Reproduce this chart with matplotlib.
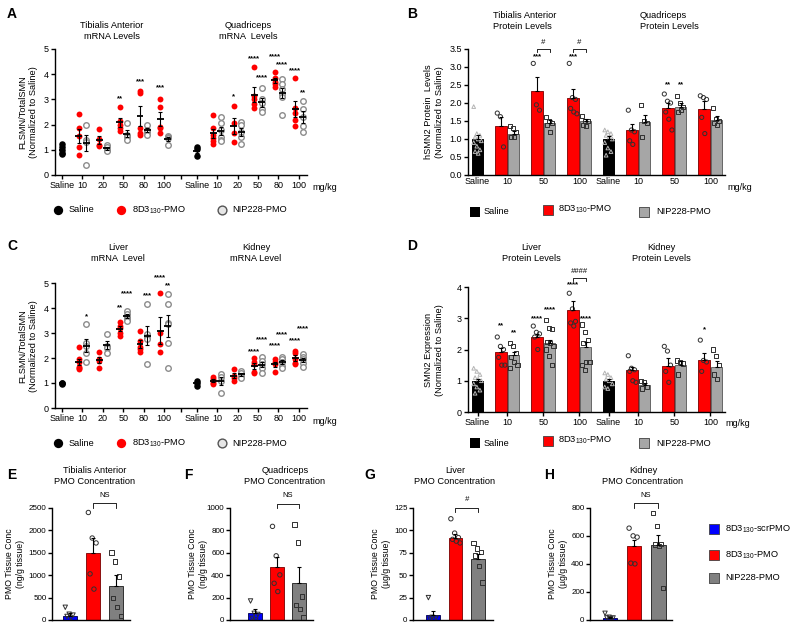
import matplotlib.pyplot as plt
import numpy as np

plt.rcParams["font.family"] = ["Liberation Sans", "DejaVu Sans"]
plt.rcParams["mathtext.fontset"] = "custom"
plt.rcParams["mathtext.rm"] = "Liberation Sans"
plt.rcParams["mathtext.it"] = "Liberation Sans"
plt.rcParams["font.size"] = 6.5
plt.rcParams["axes.linewidth"] = 1.0
plt.rcParams["axes.spines.top"] = False
plt.rcParams["axes.spines.right"] = False

W, H = 800, 630
RED = "#ff0000"
DOT_GREY = "#8c8c8c"
BAR_GREY = "#a6a6a6"
DARK_GREY = "#808080"
BLUE = "#0000ff"
PMO = "8D3$_{130}$-PMO"
STAR_FS = 5.6

#%% A: mRNA, tibialis anterior / quadriceps (FLSMN/TotalSMN)
mrna_doses = ["10", "20", "50", "80", "100"]
ta_mrna_saline = [1.22, 1.12, 1.0, 0.88, 0.82]
ta_mrna_8d3 = [[2.43, 1.88, 1.55, 1.1, 0.8], [1.82, 1.42, 1.2, 1.15],
               [2.7, 2.15, 2.0, 1.85, 1.75], [3.35, 3.25, 1.85, 1.65, 1.6],
               [3.0, 2.7, 1.9, 1.85, 1.65]]
ta_mrna_nip = [[2.0, 1.4, 1.3, 0.38], [1.2, 1.1, 1.0, 0.95],
               [2.05, 1.6, 1.5, 1.4], [2.0, 1.8, 1.7, 1.6],
               [1.55, 1.5, 1.45, 1.2]]
q_mrna_saline = [1.1, 1.05, 0.75]
q_mrna_8d3 = [[2.4, 1.85, 1.6, 1.45, 1.35, 1.25], [2.75, 2.05, 1.65, 1.3],
              [4.3, 3.15, 3.0, 2.8, 2.65], [4.1, 3.85, 3.7, 3.6, 3.5],
              [3.85, 2.65, 2.45, 2.2, 1.95]]
q_mrna_nip = [[2.3, 2.05, 1.8, 1.5, 1.4, 1.35], [2.1, 2.0, 1.7, 1.5, 1.25],
              [3.45, 3.0, 2.85, 2.6, 2.5], [3.8, 3.6, 3.4, 3.2, 3.1, 2.4],
              [2.95, 2.6, 2.3, 1.95, 1.7]]
# (tissue, dose index, group, label, height)
a_stars = [(0, 2, "r", "**", 3.04), (0, 3, "r", "***", 3.7), (0, 4, "r", "***", 3.48),
           (1, 1, "r", "*", 3.1), (1, 2, "r", "****", 4.6), (1, 2, "g", "****", 3.84),
           (1, 3, "r", "****", 4.68), (1, 3, "g", "****", 4.36),
           (1, 4, "r", "****", 4.14), (1, 4, "g", "**", 3.27)]

#%% C: mRNA, liver / kidney
li_mrna_saline = [1.02, 1.0, 0.95]
li_mrna_8d3 = [[2.45, 1.95, 1.85, 1.65, 1.6, 1.55], [2.25, 1.95, 1.9, 1.6],
               [3.45, 3.3, 3.2, 3.0, 2.9], [3.1, 2.7, 2.45, 2.35, 2.25],
               [4.6, 3.0, 2.55, 2.25]]
li_mrna_nip = [[3.35, 2.6, 2.5, 2.2, 1.85], [2.95, 2.5, 2.4, 2.2],
               [3.9, 3.75, 3.65, 3.55, 3.5], [4.15, 2.95, 2.85, 2.75, 1.75],
               [4.55, 4.15, 3.4, 3.35, 2.6, 1.6]]
ki_mrna_saline = [1.1, 1.0, 0.9]
ki_mrna_8d3 = [[1.25, 1.15, 1.1, 1.0, 0.95], [1.55, 1.3, 1.2, 1.1],
               [2.0, 1.85, 1.75, 1.45, 1.4], [1.95, 1.85, 1.75, 1.45],
               [2.3, 2.2, 1.95, 1.8, 1.75]]
ki_mrna_nip = [[1.35, 1.25, 1.1, 0.6], [1.5, 1.4, 1.3, 1.2],
               [2.05, 1.9, 1.75, 1.6, 1.4], [2.05, 1.95, 1.85, 1.7, 1.6],
               [2.15, 2.05, 1.95, 1.8, 1.65]]
c_stars = [(0, 0, "g", "*", 3.67), (0, 2, "r", "**", 4.0), (0, 2, "g", "****", 4.57),
           (0, 3, "g", "***", 4.5), (0, 4, "r", "****", 5.2), (0, 4, "g", "**", 4.9),
           (1, 2, "r", "****", 2.25), (1, 2, "g", "****", 2.75),
           (1, 3, "r", "****", 2.5), (1, 3, "g", "****", 2.92),
           (1, 4, "r", "****", 2.7), (1, 4, "g", "****", 3.16)]

#%% B: protein, tibialis anterior / quadriceps (bar = mean, err = SEM)
prot_doses = ["10", "50", "100"]
b_saline_mean = [1.0, 1.0]
b_saline_sem = [0.12, 0.07]
b_saline_pts = [[1.9, 1.15, 1.1, 1.05, 1.0, 0.95, 0.9, 0.8, 0.7, 0.65, 0.6],
                [1.25, 1.2, 1.15, 1.1, 1.05, 1.0, 0.9, 0.75, 0.65, 0.55]]
b_8d3_mean = [[1.37, 2.32, 2.13], [1.26, 1.87, 1.83]]
b_8d3_sem = [[0.25, 0.4, 0.27], [0.17, 0.13, 0.22]]
b_8d3_pts = [[[1.72, 1.62, 0.78], [3.1, 1.95, 1.8], [3.1, 2.15, 2.1, 1.85, 1.75, 1.7]],
             [[1.8, 1.25, 1.2, 0.95, 0.85], [2.25, 2.05, 2.0, 1.75, 1.55, 1.25],
              [2.2, 2.15, 2.1, 1.6, 1.15]]]
b_nip_mean = [[1.15, 1.45, 1.5], [1.48, 1.9, 1.53]]
b_nip_sem = [[0.07, 0.07, 0.06], [0.18, 0.1, 0.1]]
b_nip_pts = [[[1.35, 1.3, 1.2, 1.05, 1.05], [1.6, 1.5, 1.45, 1.4, 1.2],
              [1.65, 1.5, 1.5, 1.4, 1.35]],
             [[1.95, 1.5, 1.45, 1.05], [2.2, 2.0, 1.9, 1.75, 1.8],
              [1.85, 1.55, 1.5, 1.45, 1.4]]]
b_stars = [(0, 1, "r", "***", 3.29), (0, 2, "r", "***", 3.29),
           (1, 1, "r", "**", 2.5), (1, 1, "g", "**", 2.5)]
b_brackets = [(0, 1, "#", 3.49), (0, 2, "#", 3.49)]

#%% D: protein, liver / kidney
d_saline_mean = [1.0, 1.0]
d_saline_sem = [0.07, 0.06]
d_saline_pts = [[1.4, 1.3, 1.2, 1.1, 1.05, 1.0, 0.9, 0.8, 0.7, 0.6],
                [1.25, 1.2, 1.1, 1.05, 1.0, 0.9, 0.8, 0.75]]
d_8d3_mean = [[1.93, 2.4, 3.26], [1.33, 1.48, 1.65]]
d_8d3_sem = [[0.12, 0.1, 0.3], [0.1, 0.24, 0.23]]
d_8d3_pts = [[[2.4, 2.1, 2.0, 1.75, 1.5, 1.5], [2.75, 2.55, 2.5, 2.4, 2.0],
              [3.8, 3.3, 2.9, 2.85, 2.75]],
             [[1.8, 1.4, 1.35, 1.3, 1.0, 0.95], [2.1, 1.95, 1.5, 1.3, 0.95],
              [2.3, 1.65, 1.6, 1.3]]]
d_nip_mean = [[1.83, 2.2, 2.08], [0.88, 1.52, 1.45]]
d_nip_sem = [[0.1, 0.12, 0.16], [0.06, 0.1, 0.18]]
d_nip_pts = [[[2.2, 2.1, 1.9, 1.75, 1.6, 1.5, 1.4],
              [2.95, 2.7, 2.65, 2.25, 2.2, 2.1, 2.0, 1.8, 1.5],
              [2.8, 2.55, 2.3, 2.2, 1.6, 1.6, 1.5, 1.35]],
             [[1.0, 0.95, 0.8, 0.75], [1.65, 1.6, 1.55, 1.2],
              [2.0, 1.8, 1.5, 1.2, 1.05]]]
d_stars = [(0, 0, "r", "**", 2.76), (0, 0, "g", "**", 2.53),
           (0, 1, "r", "****", 3.0), (0, 1, "g", "****", 3.27),
           (0, 2, "r", "****", 4.07), (0, 2, "g", "****", 3.0),
           (1, 2, "r", "*", 2.63)]
d_brackets = [(0, 2, "####", 4.28)]

#%% E-H: PMO tissue concentration (scrPMO, 8D3-PMO, NIP228-PMO)
e_mean, e_sem = [100, 1500, 760], [50, 320, 240]
e_pts = [[284, 130, 110, 80, 40], [2400, 1830, 1720, 1030, 690],
         [1507, 1306, 970, 485, 284, 90]]
f_mean, f_sem = [65, 470, 330], [35, 90, 145]
f_pts = [[170, 60, 50, 15, 0], [836, 573, 403, 328, 254],
         [851, 692, 209, 134, 98, 21]]
g_mean, g_sem = [5.5, 92, 68.5], [4.5, 4, 5.5]
g_pts = [[25, 3, 2, 1], [113, 97, 92, 90, 88, 86], [86, 80, 76, 72, 60, 42]]
h_mean, h_sem = [15, 532, 535], [7, 43, 75]
h_pts = [[48, 20, 15, 15, 10], [656, 601, 592, 406, 401],
         [764, 673, 545, 540, 530, 230]]

fig = plt.figure(figsize=(W / 100, H / 100), dpi=100)


def px_axes(left, top, right, bottom):
    return fig.add_axes([left / W, 1 - bottom / H, (right - left) / W, (bottom - top) / H])


def style(ax, ticklen=3):
    ax.tick_params(length=ticklen, width=1, pad=1.5, labelsize=6.5)
    ax.tick_params(axis="y", length=3)


def mean_sem(ax, x, vals):
    v = np.asarray(vals, float)
    m, s = v.mean(), v.std(ddof=1) / np.sqrt(len(v))
    ax.plot([x - 0.17, x + 0.17], [m, m], color="k", lw=1.3, zorder=5, solid_capstyle="butt")
    ax.errorbar(x, m, yerr=s, fmt="none", ecolor="k", elinewidth=0.8,
                capsize=1.3, capthick=0.8, zorder=5)


#%% dot panels (A, C)
Q_SHIFT = 6.6
DOT_OFF = 0.18


def dot_panel(ax, tissues, stars):
    for t, (sal, red, grey) in enumerate(tissues):
        base = t * Q_SHIFT
        ax.scatter(np.full(len(sal), base), sal, s=22, color="k", lw=0, zorder=3)
        mean_sem(ax, base, sal)
        for i in range(len(mrna_doses)):
            xr, xg = base + i + 1 - DOT_OFF, base + i + 1 + DOT_OFF
            ax.scatter(np.full(len(red[i]), xr), red[i], s=18, color=RED, lw=0, zorder=3)
            ax.scatter(np.full(len(grey[i]), xg), grey[i], s=16, facecolor="white",
                       edgecolor=DOT_GREY, lw=1.0, zorder=3)
            mean_sem(ax, xr, red[i])
            mean_sem(ax, xg, grey[i])
    for t, i, g, lab, y in stars:
        x = t * Q_SHIFT + i + 1 + (-DOT_OFF if g == "r" else DOT_OFF)
        ax.text(x, y, lab, ha="center", va="center", fontsize=STAR_FS, fontweight="bold")
    ticks = [0, 1, 2, 3, 4, 5, 5.83] + [Q_SHIFT + k for k in range(6)]
    labels = ["Saline"] + mrna_doses + [""] + ["Saline"] + mrna_doses
    ax.set_xticks(ticks, labels)
    ax.set_xlim(-0.343, 12.0)
    ax.set_ylim(0, 5)
    ax.set_yticks(range(6))
    style(ax)


axA = px_axes(55, 49, 307, 175)
dot_panel(axA, [(ta_mrna_saline, ta_mrna_8d3, ta_mrna_nip),
                (q_mrna_saline, q_mrna_8d3, q_mrna_nip)], a_stars)
axC = px_axes(55, 283, 307, 408)
dot_panel(axC, [(li_mrna_saline, li_mrna_8d3, li_mrna_nip),
                (ki_mrna_saline, ki_mrna_8d3, ki_mrna_nip)], c_stars)

#%% bar panels (B, D)
GROUP_POS = [[0, 0.83, 1.83, 2.83], [3.64, 4.47, 5.47, 6.47]]
BW, BOFF = 0.32, 0.175


def jitter(n, width):
    k = np.arange(n)
    return ((k % 3) - 1) * width * 0.27 + ((k // 3) % 2 - 0.5) * width * 0.12


def bar_with_points(ax, x, m, s, pts, color, edge, marker, mcolor, w=BW, ms=9):
    ax.bar(x, m, w, color=color, edgecolor=edge, lw=0.7, zorder=2)
    ax.errorbar(x, m, yerr=[[0], [s]], fmt="none", ecolor="k", elinewidth=0.8,
                capsize=1.5, capthick=0.8, zorder=4)
    ax.scatter(x + jitter(len(pts), w), pts, marker=marker, s=ms, facecolor="none",
               edgecolor=mcolor, lw=0.7, zorder=3)


def bracket(ax, x1, x2, y, h, lab, dy):
    ax.plot([x1, x1, x2, x2], [y - h, y, y, y - h], color="k", lw=0.6, clip_on=False)
    ax.text((x1 + x2) / 2, y + dy, lab, ha="center", va="bottom", fontsize=5.5,
            style="italic" if "#" in lab else "normal")


def bar_panel(ax, sal_m, sal_s, sal_p, r_m, r_s, r_p, g_m, g_s, g_p, stars, brackets, ymax, ystep, ticklen):
    for t in range(2):
        pos = GROUP_POS[t]
        bar_with_points(ax, pos[0], sal_m[t], sal_s[t], sal_p[t], "k", "k", "^", "#b4b4b4", ms=7)
        for i in range(3):
            bar_with_points(ax, pos[i + 1] - BOFF, r_m[t][i], r_s[t][i], r_p[t][i],
                            RED, "#8a1010", "o", "#303030")
            bar_with_points(ax, pos[i + 1] + BOFF, g_m[t][i], g_s[t][i], g_p[t][i],
                            BAR_GREY, "#666666", "s", "#303030")
    for t, i, g, lab, y in stars:
        x = GROUP_POS[t][i + 1] + (-BOFF if g == "r" else BOFF)
        ax.text(x, y, lab, ha="center", va="center", fontsize=STAR_FS, fontweight="bold", clip_on=False)
    for t, i, lab, y in brackets:
        c = GROUP_POS[t][i + 1]
        bracket(ax, c - BOFF, c + BOFF, y, ymax * 0.02, lab, ymax * 0.03)
    ticks = GROUP_POS[0] + GROUP_POS[1]
    ax.set_xticks(ticks, (["Saline"] + prot_doses) * 2)
    ax.set_xlim(-0.264, 6.875)
    ax.set_ylim(0, ymax)
    yt = np.arange(0, ymax + 1e-9, ystep)
    ax.set_yticks(yt)
    style(ax, ticklen)
    return yt


axB = px_axes(468, 49, 725, 175)
yt = bar_panel(axB, b_saline_mean, b_saline_sem, b_saline_pts, b_8d3_mean, b_8d3_sem, b_8d3_pts,
               b_nip_mean, b_nip_sem, b_nip_pts, b_stars, b_brackets, 3.5, 0.5, 0)
axB.set_yticklabels([f"{v:.1f}" for v in yt])
axD = px_axes(468, 287, 725, 412)
bar_panel(axD, d_saline_mean, d_saline_sem, d_saline_pts, d_8d3_mean, d_8d3_sem, d_8d3_pts,
          d_nip_mean, d_nip_sem, d_nip_pts, d_stars, d_brackets, 4, 1, 3)

#%% concentration panels (E-H)


def conc_panel(ax, means, sems, pts, ymax, ystep, xlim, lab, sig_y):
    colors = [BLUE, RED, DARK_GREY]
    edges = ["#101060", "#8a1010", "#303030"]
    markers = ["v", "o", "s"]
    for i in range(3):
        bar_with_points(ax, i, means[i], sems[i], pts[i], colors[i], edges[i],
                        markers[i], "#303030", w=0.62, ms=10)
    bracket(ax, 1, 2, sig_y, ymax * 0.04, lab, ymax * 0.04)
    ax.set_xticks([])
    ax.set_xlim(*xlim)
    ax.set_ylim(0, ymax)
    ax.set_yticks(np.arange(0, ymax + 1e-9, ystep))
    style(ax)
    ax.tick_params(labelsize=5.8, pad=1)


axE = px_axes(52, 508, 130, 620)
conc_panel(axE, e_mean, e_sem, e_pts, 2500, 500, (-0.78, 2.6), "NS", 2610)
axF = px_axes(230, 508, 313, 620)
conc_panel(axF, f_mean, f_sem, f_pts, 1000, 200, (-1.14, 2.64), "NS", 1040)
axG = px_axes(413, 508, 493, 620)
conc_panel(axG, g_mean, g_sem, g_pts, 125, 25, (-0.89, 2.67), "#", 125.5)
axH = px_axes(590, 508, 672, 620)
conc_panel(axH, h_mean, h_sem, h_pts, 800, 200, (-0.83, 2.58), "NS", 835)

#%% texts, legends, labels (pixel coordinates)
ov = fig.add_axes([0, 0, 1, 1])
ov.set_xlim(0, W)
ov.set_ylim(H, 0)
ov.axis("off")


def t(x, y, s, **kw):
    kw.setdefault("ha", "center")
    kw.setdefault("va", "center")
    kw.setdefault("fontsize", 6.7)
    ov.text(x, y, s, linespacing=1.25, **kw)


for lab, x, y in [("A", 12, 14), ("B", 412, 14), ("C", 12, 246), ("D", 412, 246),
                  ("E", 12, 475), ("F", 188, 475), ("G", 370, 475), ("H", 549, 475)]:
    t(x, y, lab, fontsize=10, fontweight="bold")

t(112, 31, "Tibialis Anterior\nmRNA Levels")
t(248, 31, "Quadriceps\nmRNA  Levels")
t(493, 21, "Tibialis Anterior\nProtein Levels", ha="left")
t(640, 21, "Quadriceps\nProtein Levels", ha="left")
t(118, 253, "Liver\nmRNA  Level")
t(256, 253, "Kidney\nmRNA Level")
t(531, 253, "Liver\nProtein Levels")
t(661, 253, "Kidney\nProtein Levels")
t(95, 476, "Tibialis Anterior\nPMO Concentration")
t(285, 476, "Quadriceps\nPMO Concentration")
t(455, 476, "Liver\nPMO Concentration")
t(643, 476, "Kidney\nPMO Concentration")

t(28, 112, "FLSMN/TotalSMN\n(Normalized to Saline)", rotation=90)
t(434, 112, "hSMN2 Protein  Levels\n(Normalized to Saline)", rotation=90)
t(28, 346, "FLSMN/TotalSMN\n(Normalized to Saline)", rotation=90)
t(434, 350, "SMN2 Expression\n(Normalized to Saline)", rotation=90)
for x, unit in [(15, "ng/g"), (198, "ng/g"), (381, "µg/g"), (558, "µg/g")]:
    t(x, 564, f"PMO Tissue Conc\n({unit} tissue)", rotation=90, fontsize=6.3)

for x, y in [(312, 187), (727, 187), (312, 421), (725, 424)]:
    t(x, y, "mg/kg", ha="left", fontsize=6.5)

# dot legends (A, C)
for y in (210, 443):
    ov.scatter([58], [y], s=45, color="k", lw=0)
    ov.scatter([121], [y], s=45, color=RED, lw=0)
    ov.scatter([222], [y], s=40, facecolor="#e6e6e6", edgecolor="#555555", lw=1)
    t(69, y, "Saline", ha="left")
    t(132, y, PMO, ha="left")
    t(232, y, "NIP228-PMO", ha="left")

# bar legends (B, D)
for y in (212, 443):
    ov.scatter([475], [y], s=45, marker="s", color="k", lw=0)
    ov.scatter([548], [y - 2], s=50, marker="s", facecolor=RED, edgecolor="#404040", lw=0.6)
    ov.scatter([644], [y], s=50, marker="s", facecolor=BAR_GREY, edgecolor="#404040", lw=0.6)
    t(484, y, "Saline", ha="left")
    t(558, y - 3, PMO, ha="left")
    t(656, y, "NIP228-PMO", ha="left")

# concentration legend
for y, c, lab in [(529, BLUE, "8D3$_{130}$-scrPMO"), (555, RED, PMO), (578, DARK_GREY, "NIP228-PMO")]:
    ov.scatter([714], [y], s=55, marker="s", facecolor=c, edgecolor="#404040", lw=0.6)
    t(725, y, lab, ha="left")

fig.savefig("out.png", dpi=100)
